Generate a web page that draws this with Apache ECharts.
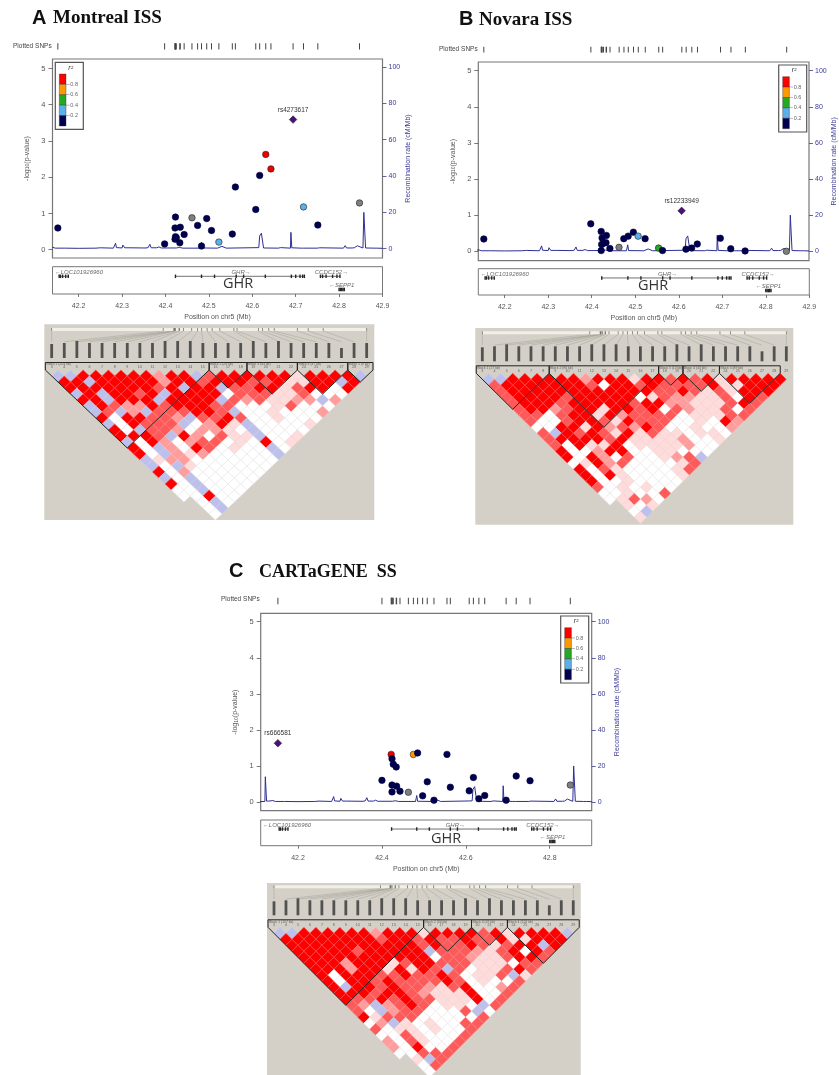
<!DOCTYPE html>
<html><head><meta charset="utf-8">
<style>html,body{margin:0;padding:0;background:#fff}#c{width:839px;height:1075px;filter:blur(0.55px)}</style>
<script src="https://cdn.jsdelivr.net/npm/echarts@6/dist/echarts.min.js"></script>
</head><body><div id="c"></div>
<script>
// ---------- data ----------
const snpPosA=[42.152,42.398,42.422,42.422,42.423,42.423,42.425,42.433,42.434,42.443,42.461,42.474,42.483,42.495,42.506,42.523,42.554,42.561,42.608,42.617,42.631,42.643,42.694,42.718,42.751,42.847];
const logPA=[0.60,0.16,0.60,0.29,0.90,0.36,0.33,0.19,0.62,0.42,0.88,0.67,0.10,0.86,0.53,0.21,0.43,1.73,1.11,2.05,2.63,2.23,3.59,1.18,0.68,1.29];
const r2A="kkkkkkkkkkykkkkbkkkkrrpbky";
const leadA="rs4273617";
const snpPosB=[42.152,42.398,42.422,42.422,42.423,42.424,42.427,42.433,42.434,42.442,42.463,42.474,42.484,42.496,42.507,42.523,42.554,42.563,42.607,42.617,42.630,42.643,42.696,42.720,42.753,42.848];
const logPB=[0.34,0.76,0.55,0.02,0.19,0.37,0.22,0.24,0.44,0.08,0.11,0.35,0.42,0.53,0.42,0.35,0.09,0.02,1.12,0.06,0.09,0.20,0.36,0.07,0.01,0.00];
const r2B="kkkkkkkkkkykkkbkgkpkkkkkky";
const leadB="rs12233949";
const snpPosC=[42.152,42.400,42.422,42.424,42.424,42.424,42.427,42.434,42.435,42.443,42.463,42.475,42.485,42.497,42.508,42.524,42.555,42.563,42.608,42.618,42.631,42.645,42.696,42.720,42.753,42.849];
const logPC=[1.63,0.60,1.32,0.47,1.20,0.28,1.05,0.97,0.44,0.30,0.27,1.32,1.36,0.17,0.56,0.05,1.32,0.41,0.31,0.68,0.09,0.18,0.05,0.72,0.59,0.47];
const r2C="pkrkkkkkkkyokkkkkkkkkkkkky";
const leadC="rs666581";

const recombPos=[42.10,42.121,42.122,42.124,42.125,42.13,42.14,42.143,42.146,42.15,42.168,42.17,42.172,42.2,42.24,42.25,42.28,42.284,42.285,42.287,42.30,42.302,42.304,42.306,42.316,42.318,42.32,42.35,42.352,42.355,42.36,42.364,42.367,42.38,42.385,42.39,42.425,42.432,42.44,42.48,42.482,42.483,42.485,42.52,42.53,42.54,42.615,42.617,42.621,42.624,42.626,42.66,42.665,42.668,42.688,42.689,42.691,42.712,42.715,42.718,42.75,42.755,42.81,42.814,42.817,42.83,42.832,42.835,42.838,42.842,42.845,42.855,42.857,42.861,42.88,42.884,42.887,42.9];
const recombRate=[0.2,0.3,14,14,0.5,0.5,0.8,1.2,0.3,0.3,0.3,1,0.3,0.2,0.3,0.5,0.3,0.4,3,0.6,0.4,2,2.2,0.5,0.5,1.2,0.4,0.4,0.9,0.4,0.6,2.4,0.5,0.5,1,0.4,0.4,0.7,0.3,0.3,0.4,3.6,0.4,0.3,1.3,0.3,0.6,7,8.5,9.2,0.4,0.3,0.6,0.3,0.3,9,0.5,0.3,1,0.3,0.3,0.5,0.3,1.7,0.4,0.4,0.9,0.5,1.1,1.6,0.5,0.4,20,0.4,0.3,1.2,0.3,0.2];

const ldRowsA=["bbrrrrrrprrbmrrrrrrlrrrrb","rrbrrrrrprrmrrrmmrllrrbr","rrrrrrrmrbrrbmmrrlmrrwr","brbrrmrbrrrrwmmmllmwww","rrbrrrbrrrrbmpmllppbp","brmpprmrrrmmwwwlmwww","bmbpbmmmrrmbwwlwwwp","rwrrmmpbmmrmwwlwww","bwrmmmbwprlbwwwwl","rwbmmpwpplwbwwww","rrrmbrpwmllbwwl","bwrpwpmmwlwrwl","rwbpwrmwlwwbw","rwbplpwwwwwb","blppwwwwwww","bwblwwwwww","rwpwwwwww","bwbwwwww","rwbwwww","wwbwww","wwrww",".wbw",".wb",".w"];
const ldRowsB=["bbrrrrrrprrrlrrmrmrlrrrrr","mrrrrrrrmwrrmrmmmmrllrrr","mrrrrrrrrrrrrmmrmlmlrrr","mrrrrmrrrrrwlmppllmwrm","mrrrmrrrrrmrrpplllmrm","mrrpmrrlrrmrwmpllmwm","mmwmrrlrpmmmmwlllmm","mwwmrrmlrmmmwwlwrp","wwrrlrpmprmwwlwwp","mbrmrmlrlmllwllw","mrrrrmrllllpwwl","mwrllrwllllpww","rwwprrwwllwww","rwrpwmwwlpmb","wlrpmwwwwlm","rwmlwwwwlm","rwrlwwwwl","rwwlwwww","mwlwlww","wwlwwm","wlmpw",".lwl",".wb",".l"];
const ldRowsC=["bbrrrrrrprrrlrrrrmrlrrrrb","rrrrrrrrmrrmrmmrmmrllrrr","rrrrrrrrrrrmrmmrmlmrrbr","rrrrrmrrrrrbmmmplmrwrm","rrrrrrrrrrrwmmpllmrrm","rrrprrrlmrrmmmlllwmm","rrrprrlrlrmbmwllmrm","rwrrrmmrmmrmwllmbl","rwrrmrmmmmrmwlwwm","rbrrmrmmplmrwwpm","rrrmrrmplllrwwm","rmmrmrmmlllrwm","mpbpmrmwllwbm","mwbpmmwwwmbw","rlmmmwwwwwm","wpblwlwwmm","mwllwlwwm","wwmlwwwm","pwmlwwm","pwrwwm","wwmmm",".lbm",".wm",".w"];
const blocksA=[[0,12],[13,15],[16,19],[20,23],[24,25]];
const blockNamesA=["Block 1 (203 kb)","Block 2 (28 kb)","Block 3 (43 kb)","Block 4 (47 kb)","Block 5 (8 kb)"];
const blocksB=[[0,5],[6,14],[15,16],[17,19],[20,24]];
const blockNamesB=["Block 1 (27 kb)","Block 2 (90 kb)","Block 3 (13 kb)","Block 4 (43 kb)","Block 5 (89 kb)"];
const blocksC=[[0,12],[13,16],[17,19],[20,25]];
const blockNamesC=["Block 1 (107 kb)","Block 2 (34 kb)","Block 3 (47 kb)","Block 4 (124 kb)"];
const markerNumbers=[3,4,5,6,7,8,9,10,11,12,13,14,15,16,17,18,19,20,21,22,24,25,26,27,28,29];
const markerNameLen=[14,15,17,15,15,15,15,15,15,17,17,17,15,15,15,15,17,15,17,15,15,15,15,10,15,15];

const logPTicks=[0,1,2,3,4,5];
const recombTicks=[0,20,40,60,80,100];
const xTicksAB=[42.2,42.3,42.4,42.5,42.6,42.7,42.8,42.9];
const xTicksC=[42.2,42.4,42.6,42.8];
const legendColors=["#ff0000","#ff9900","#22aa22","#5cb0ea","#00004e"];
const legendTicks=["0.8","0.6","0.4","0.2"];
const genes=[
 {name:"LOC101926960",dir:-1,row:0,from:42.155,to:42.176,exons:[42.155,42.158,42.163,42.170,42.176],atEdge:true},
 {name:"GHR",dir:1,row:0,from:42.423,to:42.72,exons:[42.423,42.483,42.513,42.563,42.58,42.63,42.69,42.70,42.71,42.716,42.72],labelAt:42.552},
 {name:"CCDC152",dir:1,row:0,from:42.757,to:42.802,exons:[42.757,42.762,42.77,42.785,42.795,42.802],labelAt:42.744},
 {name:"SEPP1",dir:-1,row:1,from:42.80,to:42.812,exons:[42.80,42.803,42.806,42.809,42.812],labelAt:42.777}
];

// ---------- layout per panel ----------
const FONT='"Liberation Sans",Arial,sans-serif';
const panels=[
 {snp:snpPosA,logP:logPA,r2:r2A,lead:leadA,ld:ldRowsA,blocks:blocksA,bnames:blockNamesA,xTicks:xTicksAB,
  box:[52.5,59,330,199],xMin:42.1397,y0:249.7,yS:36.24,r0:248.7,rS:1.817,snpY:[43.3,6.2],gene:[266.7,27.3],
  legend:[55.3,62.3],ghr:[238,283.7],plotted:[13,46.5],
  ldBox:[44.3,324.3,330,195.7],ld0:[51.67,370],ldU:[12.6,6],letter:["A",32,18],title:["Montreal ISS",53,18,19]},
 {snp:snpPosB,logP:logPB,r2:r2B,lead:leadB,ld:ldRowsB,blocks:blocksB,bnames:blockNamesB,xTicks:xTicksAB,
  box:[478.3,62,331,198.7],xMin:42.1393,y0:251.3,yS:36.12,r0:251.3,rS:1.806,snpY:[46.7,5.8],gene:[268.7,26.3],
  legend:[778.7,65],ghr:[653,285.5],plotted:[439,49.5],
  ldBox:[475.3,328,318,196.7],ld0:[482.33,373.3],ldU:[12.16,6],letter:["B",459,19],title:["Novara ISS",479,20,19]},
 {snp:snpPosC,logP:logPC,r2:r2C,lead:leadC,ld:ldRowsC,blocks:blocksC,bnames:blockNamesC,xTicks:xTicksC,
  box:[260.7,613.3,331,197.4],xMin:42.111,y0:802,yS:36.06,r0:802,rS:1.803,snpY:[597.7,6.5],gene:[820,25.7],
  legend:[560.7,616],ghr:[446,838.5],plotted:[221,600],
  ldBox:[267,883,313.7,192],ld0:[274,927.3],ldU:[11.97,6],letter:["C",229,571],title:["CARTaGENE  SS",259,572,18]}
];
const pointColor={k:"#00004e",r:"#ee0000",o:"#ff9900",g:"#22aa22",b:"#5cb0ea",y:"#7f7f7f",p:"#4b0f82"};
const ldColor={r:"#ff0000",m:"#ff5a5a",p:"#ff9c9c",l:"#ffdcdc",w:"#ffffff",b:"#bcc0ea"};
const ldLine={r:"#ff5050",m:"#ff8080",p:"#ffb4b4",l:"#f3d4d4",w:"#ebe9e9",b:"#ccd0ee"};
const AX="#555";

const grid=[],xAxis=[],yAxis=[],series=[],graphic=[];
const hidden={show:false};
function addGrid(l,t,w,h,extra){grid.push(Object.assign({left:l,top:t,width:w,height:h,show:false,containLabel:false},extra||{}));return grid.length-1;}

panels.forEach(P=>{
 const [bl,bt,bw,bh]=P.box, xMax=42.9;
 const txt={color:AX,fontFamily:FONT,fontSize:7};
 // --- main association plot
 const g=addGrid(bl,bt,bw,bh,{show:true,backgroundColor:"#fff",borderColor:"#777",borderWidth:1.2});
 const xi=xAxis.push({gridIndex:g,type:"value",min:P.xMin,max:xMax,show:false})-1;
 const yL=yAxis.push({gridIndex:g,type:"value",position:"left",min:(P.y0-(bt+bh))/P.yS,max:(P.y0-bt)/P.yS,
   axisLine:{show:false,onZero:false},splitLine:hidden,
   axisTick:{show:true,length:4,lineStyle:{color:AX,width:.8},customValues:logPTicks,alignWithLabel:true},
   axisLabel:Object.assign({},txt,{fontSize:7.5,margin:7,customValues:logPTicks,formatter:v=>String(v)}),
   name:"-log{s|10}(p-value)",nameLocation:"middle",nameGap:22,
   nameTextStyle:{color:AX,fontFamily:FONT,fontSize:7,rich:{s:{fontSize:5,color:AX,verticalAlign:"bottom"}}}})-1;
 const yR=yAxis.push({gridIndex:g,type:"value",position:"right",min:(P.r0-(bt+bh))/P.rS,max:(P.r0-bt)/P.rS,
   axisLine:{show:false,onZero:false},splitLine:hidden,
   axisTick:{show:true,length:4,lineStyle:{color:"#3a3a96",width:.8},customValues:recombTicks},
   axisLabel:{color:"#3a3a96",fontFamily:FONT,fontSize:7,margin:6,customValues:recombTicks,formatter:v=>String(v)},
   name:"Recombination rate (cM/Mb)",nameLocation:"middle",nameGap:22,
   nameTextStyle:{color:"#3a3a96",fontFamily:FONT,fontSize:7}})-1;
 series.push({type:"line",xAxisIndex:xi,yAxisIndex:yR,showSymbol:false,silent:true,animation:false,
   data:recombPos.map((x,i)=>[x,recombRate[i]]),lineStyle:{color:"#2e2e94",width:1},z:2});
 series.push({type:"scatter",xAxisIndex:xi,yAxisIndex:yL,animation:false,z:4,
   data:P.snp.map((x,i)=>{const c=P.r2[i],lead=c==="p";return{value:[x,P.logP[i]],
     symbol:lead?"diamond":"circle",symbolSize:lead?7.5:6.5,
     itemStyle:{color:pointColor[c],opacity:1,borderColor:c==="k"?"#00003a":"#222",borderWidth:.6},
     label:lead?{show:true,formatter:P.lead,position:"top",distance:2,fontFamily:FONT,fontSize:6.5,color:"#333"}:{show:false}};})});
 // --- plotted SNPs ticks
 const gs=addGrid(bl,P.snpY[0],bw,P.snpY[1]);
 const xs=xAxis.push({gridIndex:gs,type:"value",min:P.xMin,max:xMax,show:false})-1;
 const ys=yAxis.push({gridIndex:gs,type:"value",min:-1,max:1,show:false})-1;
 series.push({type:"scatter",xAxisIndex:xs,yAxisIndex:ys,animation:false,silent:true,symbol:"rect",symbolSize:[1,P.snpY[1]],
   data:P.snp.map(x=>[x,0]),itemStyle:{color:"#444",opacity:1}});
 graphic.push({type:"text",left:P.plotted[0],top:P.plotted[1]-4,style:{text:"Plotted SNPs",fontFamily:FONT,fontSize:6.5,fill:"#444"}});
 // --- gene track
 const gg=addGrid(bl,P.gene[0],bw,P.gene[1],{show:true,backgroundColor:"#fff",borderColor:"#777",borderWidth:1});
 const xg=xAxis.push({gridIndex:gg,type:"value",min:P.xMin,max:xMax,position:"bottom",
   axisLine:{show:false,onZero:false},splitLine:hidden,
   axisTick:{show:true,length:3,lineStyle:{color:AX,width:.8},customValues:P.xTicks},
   axisLabel:Object.assign({},txt,{margin:9,customValues:P.xTicks,formatter:v=>v.toFixed(1)}),
   name:"Position on chr5 (Mb)",nameLocation:"middle",nameGap:20,nameTextStyle:txt})-1;
 const yg=yAxis.push({gridIndex:gg,type:"value",min:0,max:27,inverse:true,show:false})-1;
 const geneLines=[],geneExons=[],geneLabels=[];
 genes.forEach(G=>{
  const yBody=9.5+13*G.row, yName=5.5+13*G.row;
  geneLines.push([G.from,yBody],[G.to,yBody],[null,null]);
  G.exons.forEach(e=>geneExons.push([e,yBody]));
  geneLabels.push({value:[G.atEdge?P.xMin+.005:G.labelAt,yName],
    label:{show:true,position:"right",distance:0,fontFamily:FONT,fontStyle:"italic",fontSize:6,color:"#444",
      formatter:(G.dir<0?"\u2190":"")+G.name+(G.dir>0?"\u2192":"")}});
 });
 series.push({type:"line",xAxisIndex:xg,yAxisIndex:yg,silent:true,animation:false,showSymbol:false,connectNulls:false,data:geneLines,lineStyle:{color:"#333",width:.7}});
 series.push({type:"scatter",xAxisIndex:xg,yAxisIndex:yg,silent:true,animation:false,symbol:"rect",symbolSize:[1.4,3.5],data:geneExons,itemStyle:{color:"#222",opacity:1}});
 series.push({type:"scatter",xAxisIndex:xg,yAxisIndex:yg,silent:true,animation:false,symbolSize:0,data:geneLabels,clip:false});
 graphic.push({type:"text",x:P.ghr[0],y:P.ghr[1],style:{text:"GHR",fontFamily:'"Open Sans",sans-serif',fontSize:14.5,fill:"#333",align:"center",verticalAlign:"middle"},z:5});
 // --- r2 legend
 const [lx,ly]=P.legend;
 graphic.push({type:"rect",shape:{x:lx,y:ly,width:28,height:67},style:{fill:"#fff",stroke:"#555",lineWidth:1.2},z:6});
 legendColors.forEach((c,i)=>graphic.push({type:"rect",shape:{x:lx+4,y:ly+11.7+i*10.4,width:6.7,height:10.4},style:{fill:c,stroke:"#333",lineWidth:.4},z:7}));
 legendTicks.forEach((t,i)=>{
  graphic.push({type:"rect",shape:{x:lx+10.7,y:ly+22+i*10.4-.25,width:3.6,height:.5},style:{fill:"#777"},z:7});
  graphic.push({type:"text",x:lx+15,y:ly+22+i*10.4,style:{text:t,fontFamily:FONT,fontSize:5.5,fill:"#666",verticalAlign:"middle"},z:7});
 });
 graphic.push({type:"text",x:lx+13,y:ly+5.5,style:{text:"r\u00b2",fontFamily:FONT,fontStyle:"italic",fontSize:7,fill:"#333",verticalAlign:"middle"},z:7});
 // --- titles
 graphic.push({type:"text",x:P.letter[1],y:P.letter[2],style:{text:P.letter[0],fontFamily:FONT,fontWeight:"bold",fontSize:20,fill:"#111",verticalAlign:"middle"}});
 graphic.push({type:"text",x:P.title[1],y:P.title[2],style:{text:P.title[0],fontFamily:'"Liberation Serif",serif',fontWeight:"bold",fontSize:P.title[3],fill:"#111",verticalAlign:"middle"}});
 // --- LD triangle
 const [ll,lt,lw,lh]=P.ldBox,[ox,oy]=P.ld0,[ux,uy]=P.ldU;
 const gl=addGrid(ll,lt,lw,lh,{show:true,backgroundColor:"#d4d0c8",borderWidth:0,borderColor:"#d4d0c8"});
 const xl=xAxis.push({gridIndex:gl,type:"value",min:(ll-ox)/ux,max:(ll+lw-ox)/ux,show:false})-1;
 const yl=yAxis.push({gridIndex:gl,type:"value",min:(lt-oy)/uy,max:(lt+lh-oy)/uy,inverse:true,show:false})-1;
 const cells=[];
 P.ld.forEach((row,r)=>{[...row].forEach((c,k)=>{ if(c==="."||!ldColor[c])return; const d=r+1;
   cells.push({value:[k+d/2,d],itemStyle:{color:ldColor[c],opacity:1,borderColor:ldLine[c],borderWidth:.6}});});});
 series.push({type:"scatter",xAxisIndex:xl,yAxisIndex:yl,silent:true,animation:false,symbol:"diamond",symbolSize:[ux,uy*2],data:cells,z:3});
 // block outlines
 const out=[];
 P.blocks.forEach(([i,j])=>{out.push([i-.5,-1.25],[i-.5,0],[(i+j)/2,j-i+1],[j+.5,0],[j+.5,-1.25],[i-.5,-1.25],[null,null]);});
 series.push({type:"line",xAxisIndex:xl,yAxisIndex:yl,silent:true,animation:false,showSymbol:false,connectNulls:false,data:out,lineStyle:{color:"#222",width:1},z:5});
 // rs name marks
 series.push({type:"scatter",xAxisIndex:xl,yAxisIndex:yl,silent:true,animation:false,symbol:"rect",z:3,
   data:markerNameLen.map((h,i)=>({value:[i,-2],symbolSize:[2.8,h],symbolOffset:[0,-h/2]})),itemStyle:{color:"#444",opacity:.9}});
 // top bar + connectors
 const p0=P.snp[0],pn=P.snp[P.snp.length-1],barX=p=>(p-p0)/(pn-p0)*25;
 const conn=[];
 P.snp.forEach((p,i)=>{conn.push([i,-4.7],[barX(p),-6.5],[null,null]);});
 series.push({type:"line",xAxisIndex:xl,yAxisIndex:yl,silent:true,animation:false,showSymbol:false,connectNulls:false,data:conn,lineStyle:{color:"#a5a299",width:.5},z:2});
 series.push({type:"line",xAxisIndex:xl,yAxisIndex:yl,silent:true,animation:false,showSymbol:false,data:[[0,-6.75],[25,-6.75]],lineStyle:{color:"#f1efe9",width:3},z:3});
 series.push({type:"scatter",xAxisIndex:xl,yAxisIndex:yl,silent:true,animation:false,symbol:"rect",symbolSize:[.8,3],data:P.snp.map(p=>[barX(p),-6.75]),itemStyle:{color:"#77756e",opacity:1},z:4});
 // tiny numbers and block names
 series.push({type:"scatter",xAxisIndex:xl,yAxisIndex:yl,silent:true,animation:false,symbolSize:0,z:6,
   data:markerNumbers.map((n,i)=>({value:[i,-.45],label:{show:true,position:"inside",formatter:String(n),fontFamily:FONT,fontSize:3.6,color:"#444"}}))});
 series.push({type:"scatter",xAxisIndex:xl,yAxisIndex:yl,silent:true,animation:false,symbolSize:0,z:6,
   data:P.blocks.map(([i],b)=>({value:[i-.42,-.95],label:{show:true,position:"right",distance:0,formatter:P.bnames[b],fontFamily:FONT,fontSize:3.4,color:"#444"}}))});
});

const chart=echarts.init(document.getElementById("c"),null,{renderer:"canvas"});
chart.setOption({animation:false,backgroundColor:"#fff",tooltip:{show:false},grid,xAxis,yAxis,series,graphic});
</script></body></html>
